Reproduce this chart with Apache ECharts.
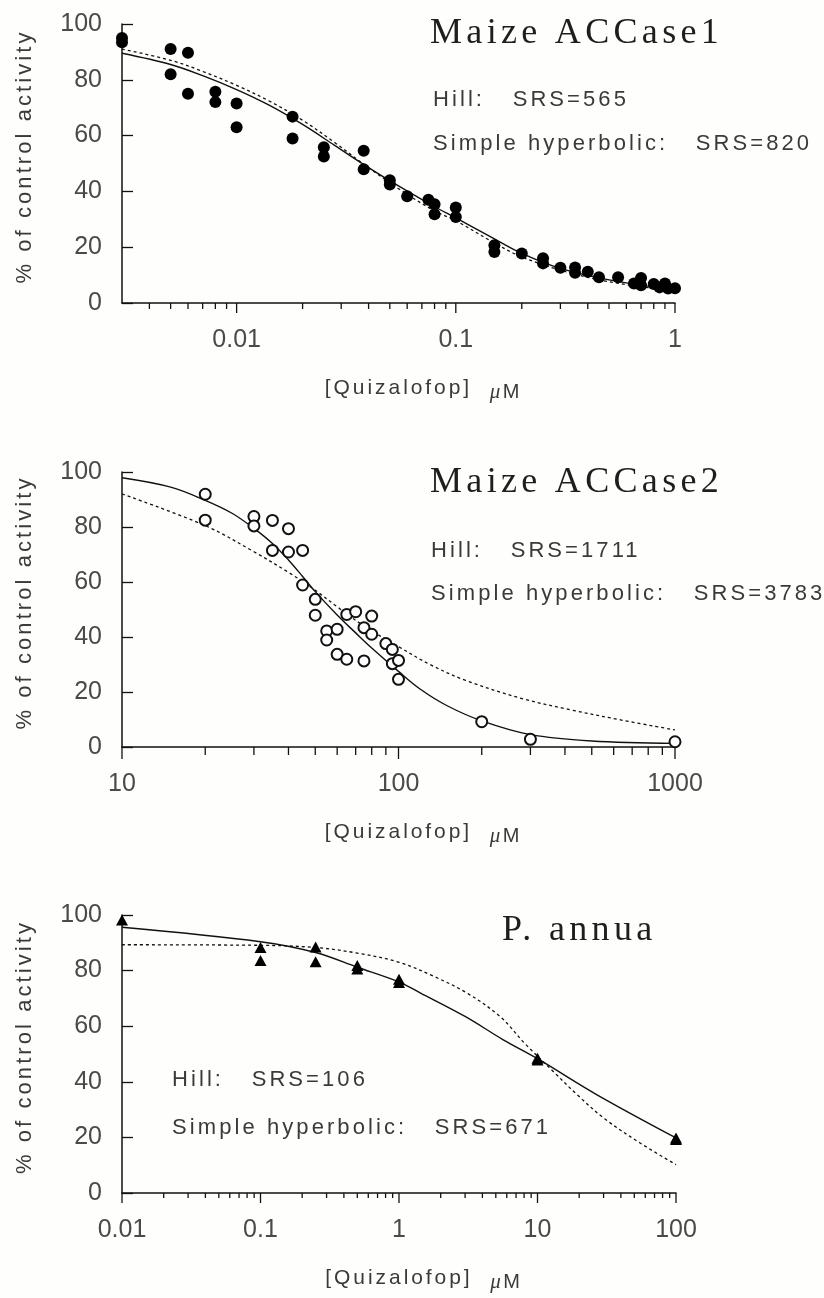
<!DOCTYPE html>
<html>
<head>
<meta charset="utf-8">
<title>Quizalofop inhibition of ACCase</title>
<script src="https://cdn.jsdelivr.net/npm/echarts@6/dist/echarts.min.js"></script>
<style>
  html, body { margin: 0; padding: 0; background: #fefefc; }
  #chart { width: 824px; height: 1298px; }
</style>
</head>
<body>
<div id="chart"></div>
<script>
// Wide tracking for the typeset text: every font assignment on a 2D context
// also sets a matching letterSpacing (measurement and drawing stay consistent).
(function () {
  const proto = window.CanvasRenderingContext2D && CanvasRenderingContext2D.prototype;
  if (!proto || !('letterSpacing' in proto)) return;
  const fontProp = Object.getOwnPropertyDescriptor(proto, 'font');
  if (!fontProp || !fontProp.set) return;
  Object.defineProperty(proto, 'font', {
    configurable: true,
    enumerable: true,
    get() { return fontProp.get.call(this); },
    set(value) {
      fontProp.set.call(this, value);
      const m = /([\d.]+)px/.exec(value);
      const size = m ? parseFloat(m[1]) : 12;
      let em = 0;
      if (/Liberation Serif/.test(value)) em = 0.12;
      else if (/Liberation Sans/.test(value) && size < 24) em = 0.14;
      this.letterSpacing = (em * size).toFixed(2) + 'px';
    }
  });
})();

// ---------------- Maize ACCase1 ----------------
const acc1Conc = [0.003, 0.003, 0.005, 0.005, 0.006, 0.006, 0.008, 0.008, 0.01, 0.01,
  0.018, 0.018, 0.025, 0.025, 0.038, 0.038, 0.05, 0.05, 0.06, 0.075, 0.08, 0.08, 0.1, 0.1,
  0.15, 0.15, 0.2, 0.25, 0.25, 0.3, 0.35, 0.35, 0.4, 0.45, 0.55, 0.65, 0.7, 0.7, 0.8, 0.85,
  0.9, 0.93, 1];
const acc1Activity = [95, 93.5, 91, 82, 89.7, 75, 75.7, 72, 71.5, 63,
  66.8, 59, 55.8, 52.5, 54.6, 47.9, 44, 42.5, 38.3, 37, 35.4, 31.8, 34.2, 30.8,
  20.7, 18.3, 17.7, 16, 14.2, 12.6, 12.7, 10.8, 11.2, 9.2, 9.2, 7, 9, 6.4, 6.8, 5.6,
  7, 5.2, 5.3];
const acc1HillX = [0.003, 0.005, 0.007, 0.01, 0.014, 0.02, 0.028, 0.04, 0.056, 0.08, 0.1, 0.15, 0.2, 0.3, 0.5, 1];
const acc1HillY = [89.5, 85.5, 81.5, 76.5, 71, 64, 56.5, 48.5, 41.5, 34.5, 30.5, 23, 17.8, 12.4, 8.3, 4.7];
const acc1HypX = [0.003, 0.005, 0.007, 0.01, 0.014, 0.02, 0.028, 0.04, 0.056, 0.08, 0.1, 0.15, 0.2, 0.3, 0.5, 1];
const acc1HypY = [91, 87, 83, 78, 72.5, 65.5, 57.5, 48.5, 40.5, 33, 29.5, 21.5, 16.5, 11.8, 7.6, 4.3];

// ---------------- Maize ACCase2 ----------------
const acc2Conc = [20, 20, 30, 30, 35, 40, 35, 40, 45, 45, 50, 50, 55, 55, 60, 60, 65, 65,
  70, 75, 75, 80, 80, 90, 95, 95, 100, 100, 200, 300, 1000];
const acc2Activity = [91.9, 82.5, 83.8, 80.4, 82.4, 79.4, 71.5, 70.9, 71.5, 58.9, 53.7, 47.9,
  42.2, 38.9, 42.8, 33.7, 31.9, 48.2, 49.2, 43.4, 31.3, 47.6, 41, 37.6, 35.5, 30.3, 31.5,
  24.6, 9.2, 2.8, 1.9];
const acc2HillX = [10, 15, 20, 25, 30, 35, 40, 45, 50, 60, 70, 80, 100, 120, 150, 200, 300, 500, 1000];
const acc2HillY = [97.9, 94.5, 89.7, 85, 79.5, 74, 68, 62, 56.5, 48, 41.5, 36, 27.5, 21, 15, 9.5, 4.5, 2.2, 1.3];
const acc2HypX = [10, 20, 30, 40, 50, 60, 75, 100, 130, 175, 280, 420, 640, 1000];
const acc2HypY = [92, 80.5, 71, 63.5, 57, 51, 44, 36.5, 30, 24.2, 17.6, 13.5, 9.8, 6.2];

// ---------------- P. annua ----------------
const poaConc = [0.01, 0.1, 0.1, 0.25, 0.25, 0.5, 0.5, 1, 1, 10, 10, 100, 100];
const poaActivity = [98.2, 88.3, 83.6, 88.5, 83.2, 81.8, 80.6, 76.9, 75.7, 48.5, 47.8, 19.8, 19.2];
const poaHillX = [0.01, 0.1, 0.25, 0.5, 1, 1.42, 3, 5.66, 10, 26.7, 100];
const poaHillY = [95.6, 90.4, 86.5, 81.2, 75.9, 72, 63.5, 55.1, 48.3, 35.4, 19.8];
const poaHypX = [0.01, 0.1, 0.25, 0.5, 1, 1.77, 3.08, 5.36, 8.2, 13, 19.2, 30, 55, 100];
const poaHypY = [89.3, 89.1, 88.3, 86.3, 83, 78, 72, 63.5, 53.5, 43.7, 35.5, 27, 18, 10.2];

// ---------------- axis ticks / labels ----------------
const acc1TickValues = [0.01, 0.1, 1];
const acc1TickLabels = ['0.01', '0.1', '1'];
const acc2TickValues = [10, 100, 1000];
const acc2TickLabels = ['10', '100', '1000'];
const poaTickValues = [0.01, 0.1, 1, 10, 100];
const poaTickLabels = ['0.01', '0.1', '1', '10', '100'];
const yTickStep = 20;

const titles = ['Maize ACCase1', 'Maize ACCase2', 'P. annua'];
const hillNotes = ['Hill:   SRS=565', 'Hill:   SRS=1711', 'Hill:   SRS=106'];
const hypNotes = ['Simple hyperbolic:   SRS=820', 'Simple hyperbolic:   SRS=3783', 'Simple hyperbolic:   SRS=671'];

// ---------------- layout ----------------
const INK = '#111111';
const TEXT = '#3a3a3a';
const SANS = 'Liberation Sans';
const SERIF = 'Liberation Serif';

const panels = [
  { grid: { left: 122, top: 24, width: 553, height: 279 }, xMin: 0.003, xMax: 1,
    tickValues: acc1TickValues, tickLabels: acc1TickLabels, majorLen: 10, minorLen: 6,
    title: [430, 34], notes: [433, 100, 144],
    pts: [acc1Conc, acc1Activity], hill: [acc1HillX, acc1HillY], hyp: [acc1HypX, acc1HypY],
    symbol: 'circle', symbolSize: 12 },
  { grid: { left: 122, top: 472, width: 553, height: 275 }, xMin: 10, xMax: 1000,
    tickValues: acc2TickValues, tickLabels: acc2TickLabels, majorLen: 12, minorLen: 8,
    title: [430, 483], notes: [431, 551, 594],
    pts: [acc2Conc, acc2Activity], hill: [acc2HillX, acc2HillY], hyp: [acc2HypX, acc2HypY],
    symbol: 'emptyCircle', symbolSize: 11 },
  { grid: { left: 122, top: 915, width: 554, height: 278 }, xMin: 0.01, xMax: 100,
    tickValues: poaTickValues, tickLabels: poaTickLabels, majorLen: 10, minorLen: 5,
    title: [502, 931], notes: [172, 1080, 1128],
    pts: [poaConc, poaActivity], hill: [poaHillX, poaHillY], hyp: [poaHypX, poaHypY],
    symbol: 'triangle', symbolSize: [12, 11] }
];

const zip = (xs, ys) => xs.map((x, i) => [x, ys[i]]);

// Major ticks on every decade, minor ticks on 2..9 times the decade.
function logTicks(min, max) {
  const out = [];
  const lo = Math.floor(Math.log10(min) + 1e-9);
  const hi = Math.ceil(Math.log10(max) - 1e-9);
  for (let e = lo; e <= hi; e++) {
    const d = Math.pow(10, e);
    for (let k = 1; k <= 9; k++) {
      const v = +(k * d).toPrecision(6);
      if (v < min * (1 - 1e-9) || v > max * (1 + 1e-9)) continue;
      if (k !== 1 && Math.abs(v - min) / min < 1e-9) continue;
      out.push([v, k === 1 ? 1 : 0]);
    }
  }
  return out;
}

function labelFor(values, labels) {
  return function (v) {
    for (let i = 0; i < values.length; i++) {
      if (Math.abs(v - values[i]) / values[i] < 1e-6) return labels[i];
    }
    return '';
  };
}

const grid = [], xAxis = [], yAxis = [], series = [], graphic = [];

panels.forEach((p, i) => {
  grid.push(Object.assign({ outerBoundsMode: 'none', containLabel: false }, p.grid));

  xAxis.push({
    type: 'log', logBase: 10, gridIndex: i, min: p.xMin, max: p.xMax,
    axisLine: { show: true, onZero: false, lineStyle: { color: INK, width: 1.5 } },
    axisTick: { show: false },
    splitLine: { show: false },
    minorTick: { show: false },
    axisLabel: {
      formatter: labelFor(p.tickValues, p.tickLabels),
      margin: 25, fontSize: 25, fontFamily: SANS, color: '#4a4a4a'
    },
    name: '{q|[Quizalofop]  }{u|μ}{m|M}',
    nameLocation: 'middle',
    nameGap: 68,
    nameTextStyle: {
      padding: [0, 0, 0, 50],
      rich: {
        q: { fontSize: 21, fontFamily: SANS, color: TEXT },
        u: { fontSize: 21, fontFamily: SERIF, fontStyle: 'italic', color: TEXT, padding: [10, 0, 0, 0] },
        m: { fontSize: 20, fontFamily: SANS, color: TEXT, padding: [10, 0, 0, 0] }
      }
    }
  });

  yAxis.push({
    type: 'value', gridIndex: i, min: 0, max: 100, interval: yTickStep,
    axisLine: { show: true, lineStyle: { color: INK, width: 1.5 } },
    axisTick: { show: true, inside: true, length: 11, lineStyle: { color: INK, width: 1.3 } },
    splitLine: { show: false },
    axisLabel: { margin: 20, fontSize: 25, fontFamily: SANS, color: '#4a4a4a' },
    name: '% of control activity',
    nameLocation: 'middle',
    nameGap: 85,
    nameTextStyle: { fontSize: 22, fontFamily: SANS, color: TEXT, padding: [0, 0, 0, 14] }
  });

  // decade tick marks hanging below the x axis
  series.push({
    type: 'custom', xAxisIndex: i, yAxisIndex: i, silent: true, clip: false, z: 3,
    data: logTicks(p.xMin, p.xMax),
    renderItem: function (params, api) {
      const pt = api.coord([api.value(0), 0]);
      const len = api.value(1) ? p.majorLen : p.minorLen;
      return {
        type: 'line',
        shape: { x1: pt[0], y1: pt[1], x2: pt[0], y2: pt[1] + len },
        style: { stroke: INK, lineWidth: 1.3 }
      };
    }
  });

  series.push({
    type: 'line', xAxisIndex: i, yAxisIndex: i, data: zip(p.hill[0], p.hill[1]),
    showSymbol: false, smooth: 0.35, silent: true, z: 2,
    lineStyle: { color: INK, width: 1.4, type: 'solid' }
  });
  series.push({
    type: 'line', xAxisIndex: i, yAxisIndex: i, data: zip(p.hyp[0], p.hyp[1]),
    showSymbol: false, smooth: 0.35, silent: true, z: 2,
    lineStyle: { color: INK, width: 1.3, type: [3, 3] }
  });
  series.push({
    type: 'scatter', xAxisIndex: i, yAxisIndex: i, data: zip(p.pts[0], p.pts[1]),
    symbol: p.symbol, symbolSize: p.symbolSize, clip: false, silent: true, z: 4,
    itemStyle: p.symbol === 'emptyCircle'
      ? { color: INK, borderColor: INK, borderWidth: 1.3, opacity: 1 }
      : { color: '#000', opacity: 1 }
  });

  graphic.push({
    type: 'text', x: p.title[0], y: p.title[1], silent: true,
    style: { text: titles[i], fontSize: 36, fontFamily: SERIF, fill: '#1e1e1e',
      align: 'left', verticalAlign: 'middle' }
  });
  graphic.push({
    type: 'text', x: p.notes[0], y: p.notes[1], silent: true,
    style: { text: hillNotes[i], fontSize: 22, fontFamily: SANS, fill: TEXT,
      align: 'left', verticalAlign: 'middle' }
  });
  graphic.push({
    type: 'text', x: p.notes[0], y: p.notes[2], silent: true,
    style: { text: hypNotes[i], fontSize: 22, fontFamily: SANS, fill: TEXT,
      align: 'left', verticalAlign: 'middle' }
  });
});

const chart = echarts.init(document.getElementById('chart'), null, { renderer: 'canvas' });
chart.setOption({
  backgroundColor: '#fefefc',
  animation: false,
  grid, xAxis, yAxis, series, graphic
});
</script>
</body>
</html>
